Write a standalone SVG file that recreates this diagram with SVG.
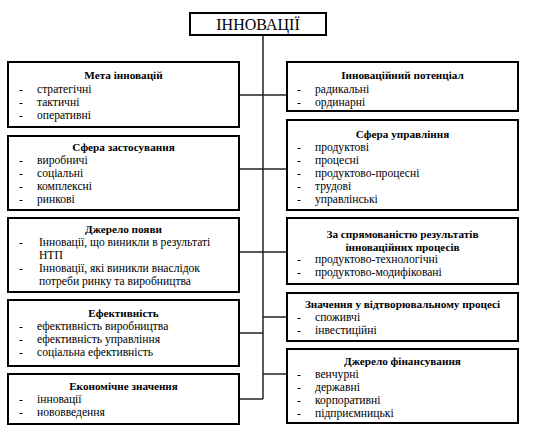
<svg xmlns="http://www.w3.org/2000/svg" width="535" height="436" viewBox="0 0 535 436">
<style>
.box{fill:#fff;stroke:#000;stroke-width:2}
.con line,.con polyline{stroke:#222;stroke-width:1.5;fill:none}
text{font-family:"Liberation Serif","Times New Roman",serif;font-size:11.6px;fill:#000}
.t{font-weight:bold;text-anchor:middle;font-size:11.2px}
.main{font-size:16px;text-anchor:middle}
</style>
<rect width="535" height="436" fill="#fff"/>
<g class="con">
<line x1="263" y1="35" x2="263" y2="399"/>
<line x1="239" y1="95" x2="287" y2="95"/>
<line x1="239" y1="169" x2="287" y2="169"/>
<line x1="239" y1="252" x2="287" y2="252"/>
<line x1="263" y1="317" x2="287" y2="317"/>
<line x1="239" y1="333" x2="263" y2="333"/>
<line x1="263" y1="374" x2="287" y2="374"/>
<line x1="239" y1="399" x2="263" y2="399"/>
</g>
<g id="innovations">
<rect class="box" x="190" y="13" width="136" height="22"/>
<text class="main" x="258" y="30">ІННОВАЦІЇ</text>
</g>
<g id="meta">
<rect class="box" x="8" y="62" width="231" height="65"/>
<text class="t" x="123.5" y="79">Мета інновацій</text>
<text x="19" y="93">-</text><text x="37" y="93">стратегічні</text>
<text x="19" y="106">-</text><text x="37" y="106">тактичні</text>
<text x="19" y="119">-</text><text x="37" y="119">оперативні</text>
</g>
<g id="sfera-zast">
<rect class="box" x="8" y="136" width="231" height="74"/>
<text class="t" x="123.5" y="151">Сфера застосування</text>
<text x="19" y="164">-</text><text x="37" y="164">виробничі</text>
<text x="19" y="177">-</text><text x="37" y="177">соціальні</text>
<text x="19" y="190">-</text><text x="37" y="190">комплексні</text>
<text x="19" y="203">-</text><text x="37" y="203">ринкові</text>
</g>
<g id="dzherelo-poiavy">
<rect class="box" x="8" y="218" width="231" height="74"/>
<text class="t" x="123.5" y="233">Джерело появи</text>
<text x="19" y="246">-</text><text x="39" y="246">Інновації, що виникли в результаті</text>
<text x="39" y="259">НТП</text>
<text x="19" y="272">-</text><text x="39" y="272">Інновації, які виникли внаслідок</text>
<text x="39" y="285">потреби ринку та виробництва</text>
</g>
<g id="efektyvnist">
<rect class="box" x="8" y="300" width="231" height="66"/>
<text class="t" x="123.5" y="317">Ефективність</text>
<text x="19" y="330">-</text><text x="37" y="330">ефективність виробництва</text>
<text x="19" y="343">-</text><text x="37" y="343">ефективність управління</text>
<text x="19" y="356">-</text><text x="37" y="356">соціальна ефективність</text>
</g>
<g id="ekonomichne">
<rect class="box" x="8" y="374" width="231" height="50"/>
<text class="t" x="123.5" y="390">Економічне значення</text>
<text x="19" y="403">-</text><text x="37" y="403">інновації</text>
<text x="19" y="416">-</text><text x="37" y="416">нововведення</text>
</g>
<g id="potentsial">
<rect class="box" x="287" y="62" width="231" height="49"/>
<text class="t" x="402.5" y="79">Інноваційний потенціал</text>
<text x="297" y="93">-</text><text x="315" y="93">радикальні</text>
<text x="297" y="106">-</text><text x="315" y="106">ординарні</text>
</g>
<g id="sfera-upr">
<rect class="box" x="287" y="120" width="231" height="90"/>
<text class="t" x="402.5" y="138">Сфера управління</text>
<text x="297" y="151">-</text><text x="315" y="151">продуктові</text>
<text x="297" y="164">-</text><text x="315" y="164">процесні</text>
<text x="297" y="177">-</text><text x="315" y="177">продуктово-процесні</text>
<text x="297" y="190">-</text><text x="315" y="190">трудові</text>
<text x="297" y="203">-</text><text x="315" y="203">управлінські</text>
</g>
<g id="spriamovanist">
<rect class="box" x="287" y="218" width="231" height="66"/>
<text class="t" x="402.5" y="238">За спрямованістю результатів</text>
<text class="t" x="402.5" y="251">інноваційних процесів</text>
<text x="297" y="263">-</text><text x="315" y="263">продуктово-технологічні</text>
<text x="297" y="276">-</text><text x="315" y="276">продуктово-модифіковані</text>
</g>
<g id="znachennia">
<rect class="box" x="287" y="293" width="231" height="48"/>
<text class="t" x="402.5" y="308">Значення у відтворювальному процесі</text>
<text x="297" y="321">-</text><text x="315" y="321">споживчі</text>
<text x="297" y="334">-</text><text x="315" y="334">інвестиційні</text>
</g>
<g id="finansuvannia">
<rect class="box" x="287" y="349" width="231" height="74"/>
<text class="t" x="402.5" y="365">Джерело фінансування</text>
<text x="297" y="378">-</text><text x="315" y="378">венчурні</text>
<text x="297" y="391">-</text><text x="315" y="391">державні</text>
<text x="297" y="404">-</text><text x="315" y="404">корпоративні</text>
<text x="297" y="417">-</text><text x="315" y="417">підприємницькі</text>
</g>
</svg>
